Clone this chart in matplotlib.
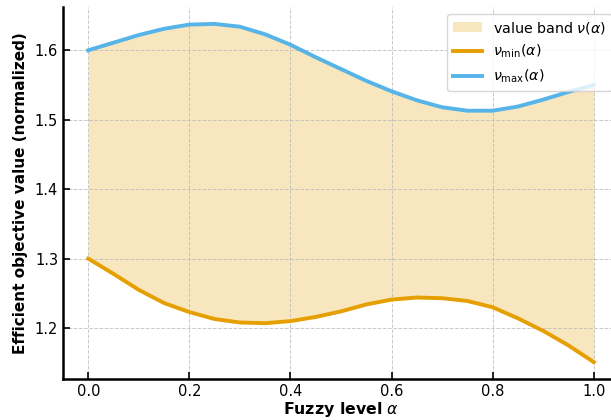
import matplotlib
matplotlib.use("Agg")
import matplotlib.pyplot as plt
import numpy as np

# fuzzy level alpha and the two value curves
alpha = [0.0, 0.05, 0.1, 0.15, 0.2, 0.25, 0.3, 0.35, 0.4, 0.45, 0.5,
         0.55, 0.6, 0.65, 0.7, 0.75, 0.8, 0.85, 0.9, 0.95, 1.0]
v_max = [1.600, 1.611, 1.622, 1.631, 1.637, 1.638, 1.634, 1.623, 1.608, 1.590, 1.573,
         1.556, 1.541, 1.528, 1.518, 1.513, 1.513, 1.519, 1.529, 1.540, 1.550]
v_min = [1.300, 1.278, 1.255, 1.236, 1.223, 1.213, 1.208, 1.207, 1.210, 1.216, 1.224,
         1.234, 1.241, 1.244, 1.243, 1.239, 1.230, 1.214, 1.196, 1.175, 1.151]

x = np.array(alpha)
lo = np.array(v_min)
hi = np.array(v_max)

fig = plt.figure(figsize=(6.11, 4.2), dpi=100)
ax = fig.add_axes([63/611, 41/420, 556/611, 372/420])

ax.fill_between(x, lo, hi, color='#E69F00', alpha=0.25, linewidth=0,
                label=r'value band $\nu(\alpha)$')
ax.plot(x, lo, color='#E69F00', lw=2.8, label=r'$\nu_{\min}(\alpha)$')
ax.plot(x, hi, color='#56B4E9', lw=2.8, label=r'$\nu_{\max}(\alpha)$')

ax.set_xlabel(r'Fuzzy level $\alpha$', fontsize=11.3, fontweight='bold', labelpad=1)
ax.set_ylabel('Efficient objective value (normalized)', fontsize=11, fontweight='bold', labelpad=5)
ax.set_xticks([0.0, 0.2, 0.4, 0.6, 0.8, 1.0])
ax.set_yticks([1.2, 1.3, 1.4, 1.5, 1.6])
ax.tick_params(direction='in', length=5, width=1.2, labelsize=10.5)
ax.grid(True, linestyle='--', color='#bbbbbb', linewidth=0.7, alpha=0.8)

ax.spines['top'].set_visible(False)
ax.spines['right'].set_visible(False)
ax.spines['left'].set_linewidth(1.8)
ax.spines['bottom'].set_linewidth(1.8)

ax.legend(loc='upper right', fontsize=10.3, handlelength=2.0)

fig.savefig('out.png', dpi=100)
